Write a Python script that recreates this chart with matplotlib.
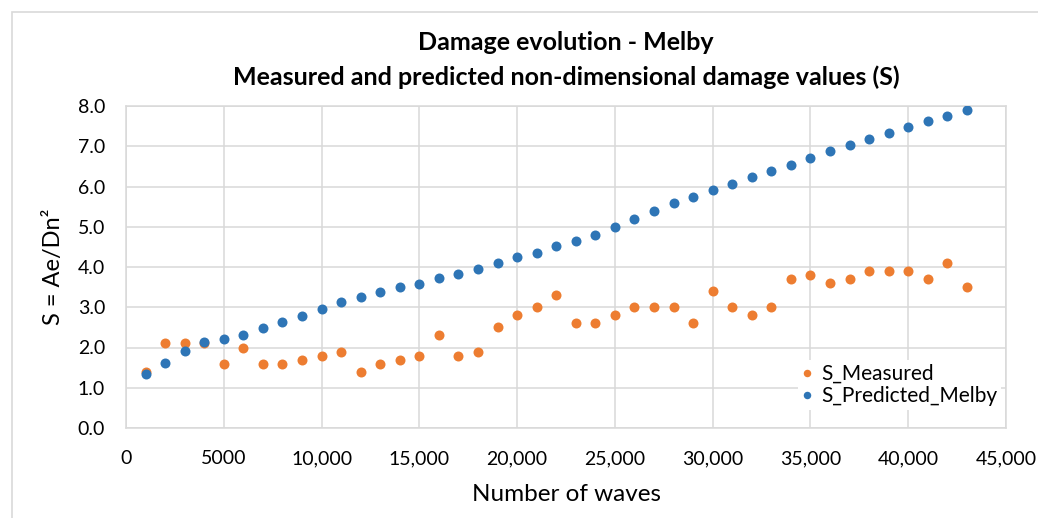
import matplotlib
matplotlib.use("Agg")
import matplotlib.pyplot as plt
from matplotlib.patches import Rectangle

plt.rcParams['font.family'] = ['Lato', 'DejaVu Sans']

# number of waves at each measurement
waves = [1000 * i for i in range(1, 44)]

s_measured = [1.4, 2.1, 2.1, 2.1, 1.6, 2.0, 1.6, 1.6, 1.7, 1.8,
              1.9, 1.4, 1.6, 1.7, 1.8, 2.3, 1.8, 1.9, 2.5, 2.8,
              3.0, 3.3, 2.6, 2.6, 2.8, 3.0, 3.0, 3.0, 2.6, 3.4,
              3.0, 2.8, 3.0, 3.7, 3.8, 3.6, 3.7, 3.9, 3.9, 3.9,
              3.7, 4.1, 3.5]

s_predicted = [1.34, 1.62, 1.91, 2.14, 2.22, 2.30, 2.49, 2.63, 2.79, 2.96,
               3.13, 3.26, 3.39, 3.50, 3.59, 3.72, 3.83, 3.94, 4.09, 4.26,
               4.34, 4.51, 4.65, 4.79, 4.99, 5.20, 5.40, 5.58, 5.75, 5.91,
               6.06, 6.23, 6.39, 6.53, 6.72, 6.88, 7.04, 7.18, 7.34, 7.48,
               7.63, 7.76, 7.89]

x_ticks = [0, 5000, 10000, 15000, 20000, 25000, 30000, 35000, 40000, 45000]
x_ticklabels = ['0', '5000', '10,000', '15,000', '20,000', '25,000',
                '30,000', '35,000', '40,000', '45,000']
y_ticks = [0, 1, 2, 3, 4, 5, 6, 7, 8]

W, H = 1038, 518
fig = plt.figure(figsize=(W / 100, H / 100), dpi=100)
fig.patch.set_facecolor('white')

# outer chart frame
fig.patches.append(Rectangle((12 / W, -0.2), 1.2, 1.2 - 12 / H,
                             transform=fig.transFigure, fill=False,
                             edgecolor='#d9d9d9', linewidth=1.2))

ax = fig.add_axes([126 / W, 1 - 428 / H, (1006 - 126) / W, (428 - 106) / H])

ax.plot(waves, s_measured, 'o', color='#ED7D31', markersize=7.2,
        markeredgewidth=0, label='S_Measured', zorder=3)
ax.plot(waves, s_predicted, 'o', color='#2E75B6', markersize=7.2,
        markeredgewidth=0, label='S_Predicted_Melby', zorder=3)

ax.set_xlim(0, 45000)
ax.set_ylim(0, 8)
ax.set_xticks(x_ticks)
ax.set_xticklabels(x_ticklabels)
ax.set_yticks(y_ticks)
ax.set_yticklabels(['%.1f' % v for v in y_ticks])
ax.tick_params(length=0, labelsize=14, colors='#000000')
ax.tick_params(axis='x', pad=16)
ax.tick_params(axis='y', pad=15)

ax.grid(True, color='#d9d9d9', linewidth=1.1)
ax.set_axisbelow(True)
for sp in ax.spines.values():
    sp.set_color('#d9d9d9')
    sp.set_linewidth(1.1)

ax.set_xlabel('Number of waves', fontsize=17.5, labelpad=12)
ax.set_ylabel('S = Ae/Dn²', fontsize=17, labelpad=10)

fig.text(566 / W, 1 - 42 / H, 'Damage evolution - Melby', ha='center',
         va='center', fontsize=18, fontweight='bold')
fig.text(566 / W, 1 - 77 / H,
         'Measured and predicted non-dimensional damage values (S)',
         ha='center', va='center', fontsize=18, fontweight='bold')

leg = ax.legend(loc='upper left', bbox_to_anchor=(798 / W, 1 - 360 / H),
                bbox_transform=fig.transFigure, fontsize=15,
                frameon=True, fancybox=False, handlelength=0.5,
                handletextpad=0.4, borderpad=0.2, labelspacing=0.1,
                borderaxespad=0, markerscale=0.75)
leg.get_frame().set_facecolor('white')
leg.get_frame().set_edgecolor('none')
leg.get_frame().set_alpha(1)

fig.savefig('out.png', dpi=100)
